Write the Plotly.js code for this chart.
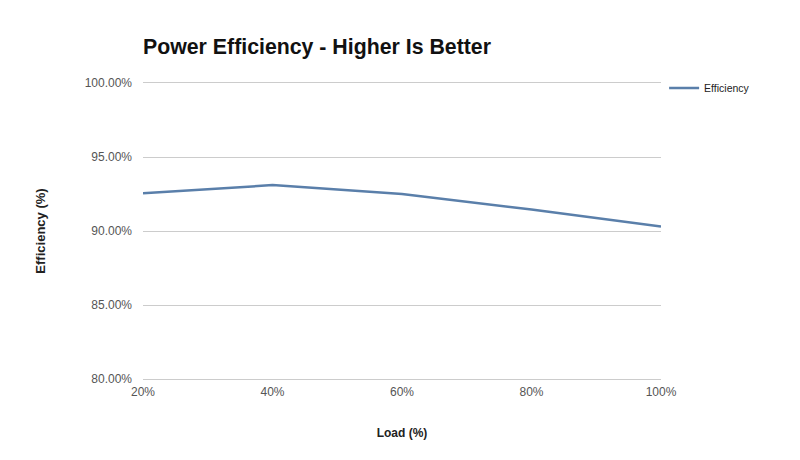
<!DOCTYPE html>
<html>
<head>
<meta charset="utf-8">
<script src="https://cdn.plot.ly/plotly-3.0.1.min.js"></script>
<style>html,body{margin:0;padding:0;background:#fff;}#chart{width:800px;height:460px;}</style>
</head>
<body>
<div id="chart"></div>
<script>
const loads = [20, 40, 60, 80, 100];
const loadLabels = ["20%", "40%", "60%", "80%", "100%"];
const efficiency = [92.55, 93.1, 92.5, 91.45, 90.3];
const yTicks = [80, 85, 90, 95, 100];
const yTickLabels = ["80.00%", "85.00%", "90.00%", "95.00%", "100.00%"];

const font = "Liberation Sans, Arial, sans-serif";

Plotly.newPlot("chart", [{
  x: loads,
  y: efficiency,
  type: "scatter",
  mode: "lines",
  name: "Efficiency",
  line: {color: "#5a7faa", width: 2.5}
}], {
  width: 800, height: 460,
  margin: {l: 143, r: 139, t: 83, b: 81},
  paper_bgcolor: "#fff", plot_bgcolor: "#fff",
  font: {family: font, color: "#444", size: 12},
  title: {text: "<b>Power Efficiency - Higher Is Better</b>", x: 143/800, xanchor: "left", y: 1 - 47/460, yanchor: "middle",
          font: {family: font, size: 21.3, color: "#111"}},
  xaxis: {
    range: [20, 100], tickvals: loads, ticktext: loadLabels,
    showgrid: false, zeroline: false,
    showline: true, mirror: true, linecolor: "#cccccc", linewidth: 1,
    ticks: "", ticklabelstandoff: 2,
    tickfont: {family: font, size: 12, color: "#555"},
    title: {text: "<b>Load (%)</b>", standoff: 30, font: {family: font, size: 12, color: "#222"}}
  },
  yaxis: {
    range: [80, 100], tickvals: yTicks, ticktext: yTickLabels,
    showgrid: true, gridcolor: "#cccccc", gridwidth: 1, zeroline: false, showline: false,
    ticks: "", ticklabelstandoff: 10,
    tickfont: {family: font, size: 12, color: "#555"},
    title: {text: "<b>Efficiency (%)</b>", standoff: 36, font: {family: font, size: 13, color: "#222"}}
  },
  showlegend: true,
  legend: {x: 1.006, y: 1 - 5/296, xanchor: "left", yanchor: "middle", font: {family: font, size: 10.5, color: "#222"}, bgcolor: "rgba(0,0,0,0)"}
}, {displayModeBar: false});
</script>
</body>
</html>
